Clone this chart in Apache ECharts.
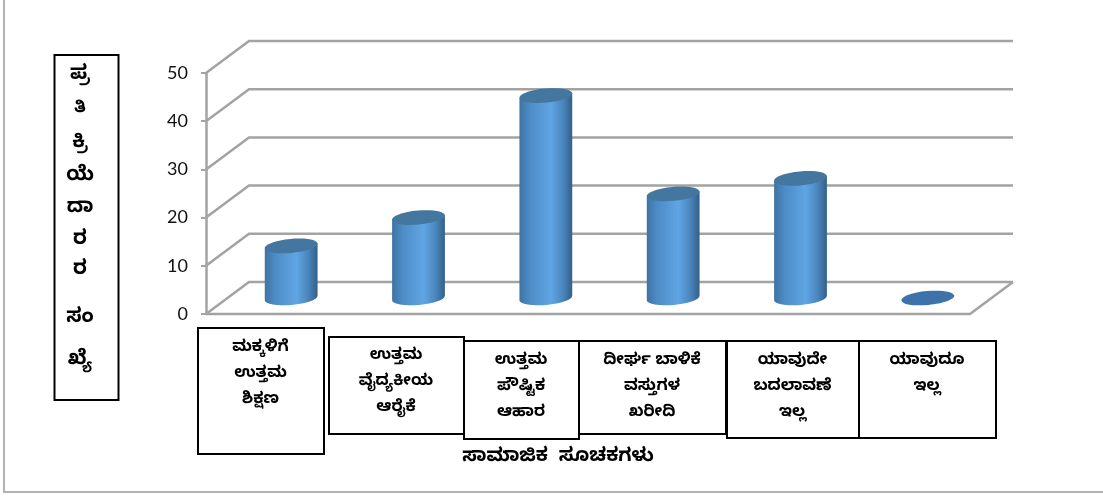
<!DOCTYPE html>
<html><head><meta charset="utf-8">
<style>html,body{margin:0;padding:0;background:#fff}#c{width:1103px;height:498px}</style>
<script src="https://cdn.jsdelivr.net/npm/echarts@6/dist/echarts.min.js"></script>
</head><body><div id="c"></div>
<script>
const categories = ['ಮಕ್ಕಳಿಗೆ\nಉತ್ತಮ\nಶಿಕ್ಷಣ','ಉತ್ತಮ\nವೈದ್ಯಕೀಯ\nಆರೈಕೆ','ಉತ್ತಮ\nಪೌಷ್ಟಿಕ\nಆಹಾರ','ದೀರ್ಘ ಬಾಳಿಕೆ\nವಸ್ತುಗಳ\nಖರೀದಿ','ಯಾವುದೇ\nಬದಲಾವಣೆ\nಇಲ್ಲ','ಯಾವುದೂ\nಇಲ್ಲ'];
const values = [10.8, 16.7, 42, 21.6, 24.8, 0];
const yTicks = [0, 10, 20, 30, 40, 50];
const yTitle = ['ಪ್ರ','ತಿ','ಕ್ರಿ','ಯೆ','ದಾ','ರ','ರ','ಸಂ','ಖ್ಯೆ'];
const xTitle = 'ಸಾಮಾಜಿಕ  ಸೂಚಕಗಳು';

const FONT = '"Noto Sans Kannada","Noto Sans","Noto Serif Kannada","DejaVu Sans",sans-serif';
const DX = 43, DY = 32, GRAY = '#a3a3a3';
const boxes = [[198,328,126,126],[329,337,135,97],[464,341,115,98],[579,341,147,93],[727,341,132,97],[859,341,137,97]];
const titleY = [77,110,145,178,210,242,272,320,362];
const titleSize = [20,17,20,20,20,20,20,20,20];

const g = [];
g.push({type:'polyline',z:1,shape:{points:[[4,0],[4,492],[1103,492]]},style:{fill:'none',stroke:'#b3b3b3',lineWidth:2}});
g.push({type:'rect',z:5,shape:{x:54.5,y:55,width:64,height:345},style:{fill:'#fff',stroke:'#000',lineWidth:2}});
yTitle.forEach((t,i)=>g.push({type:'text',z:6,x:80,y:titleY[i],
  style:{text:t,fill:'#000',font:'bold '+titleSize[i]+'px '+FONT,align:'center',verticalAlign:'middle'}}));
categories.forEach((t,i)=>{const b=boxes[i];
  g.push({type:'rect',z:5,shape:{x:b[0],y:b[1],width:b[2],height:b[3]},style:{fill:'#fff',stroke:'#000',lineWidth:2}});
  g.push({type:'text',z:6,x:b[0]+b[2]/2-0.5,y:b[1]+(i==1?7:8),style:{text:t,fill:'#000',font:'bold 16px '+FONT,align:'center',verticalAlign:'top',lineHeight:26}});
});
g.push({type:'text',z:6,x:558,y:459,style:{text:xTitle,fill:'#000',font:'bold 19px '+FONT,align:'center',verticalAlign:'middle'}});

const chart = echarts.init(document.getElementById('c'),null,{renderer:'canvas'});
function wall(params, api){
  const v = api.value(0), cs = params.coordSys, y = api.coord([0,v])[1];
  const L = cs.x, R = cs.x+cs.width, st = {stroke:GRAY,lineWidth:2.5,fill:'none'};
  const kids = [{type:'polyline',shape:{points:[[L,y],[L+DX,y-DY],[R+DX,y-DY]]},style:st}];
  if(v===0) kids.push({type:'polyline',shape:{points:[[L,y],[R,y],[R+DX,y-DY]]},style:st});
  return {type:'group',children:kids};
}
function cyl(params, api){
  const i = api.value(0), v = api.value(1);
  const p = api.coord([i,v]), p0 = api.coord([i,0]);
  const cx = p[0]+DX/2, top = p[1]-DY/2, bot = p0[1]-DY/2;
  const rx = 26.5, ry = 7, rot = -0.09, deg = rot*180/Math.PI;
  const sx = rx*Math.cos(rot), sy = rx*Math.sin(rot);
  const kids = [];
  if(v>0) kids.push({type:'path',
    shape:{pathData:`M${cx-sx} ${top-sy} L${cx-sx} ${bot-sy} A${rx} ${ry} ${deg} 0 0 ${cx+sx} ${bot+sy} L${cx+sx} ${top+sy} Z`},
    style:{fill:new echarts.graphic.LinearGradient(0,0,1,0,[
      {offset:0,color:'#3f73a3'},{offset:.2,color:'#4d8cc6'},{offset:.6,color:'#60a5e4'},{offset:.82,color:'#4a86bd'},{offset:1,color:'#345f88'}])}});
  kids.push({type:'ellipse',shape:{cx:0,cy:0,rx,ry},x:cx,y:top,rotation:-rot,
    style:{fill:v>0?'#44779f':'#3d73a8'}});
  return {type:'group',children:kids};
}
chart.setOption({
  animation:false,
  backgroundColor:'#fff',
  textStyle:{fontFamily:FONT},
  graphic:g,
  grid:{left:206,top:73,width:764,height:241,containLabel:false},
  xAxis:{type:'category',data:categories,axisLine:{show:false},axisTick:{show:false},axisLabel:{show:false},splitLine:{show:false}},
  yAxis:{type:'value',min:0,max:50,interval:10,
    axisLine:{show:true,lineStyle:{color:GRAY,width:2.5}},
    axisTick:{show:true,length:5,lineStyle:{color:GRAY,width:2}},
    splitLine:{show:false},
    axisLabel:{color:'#111',fontSize:18,fontFamily:'Lato,"Open Sans",sans-serif',margin:18}},
  series:[
    {type:'custom',z:2,silent:true,clip:false,renderItem:wall,encode:{y:0},data:yTicks},
    {type:'custom',z:3,silent:true,clip:false,renderItem:cyl,encode:{x:0,y:1},data:values.map((v,i)=>[i,v])}
  ]
});
</script></body></html>
